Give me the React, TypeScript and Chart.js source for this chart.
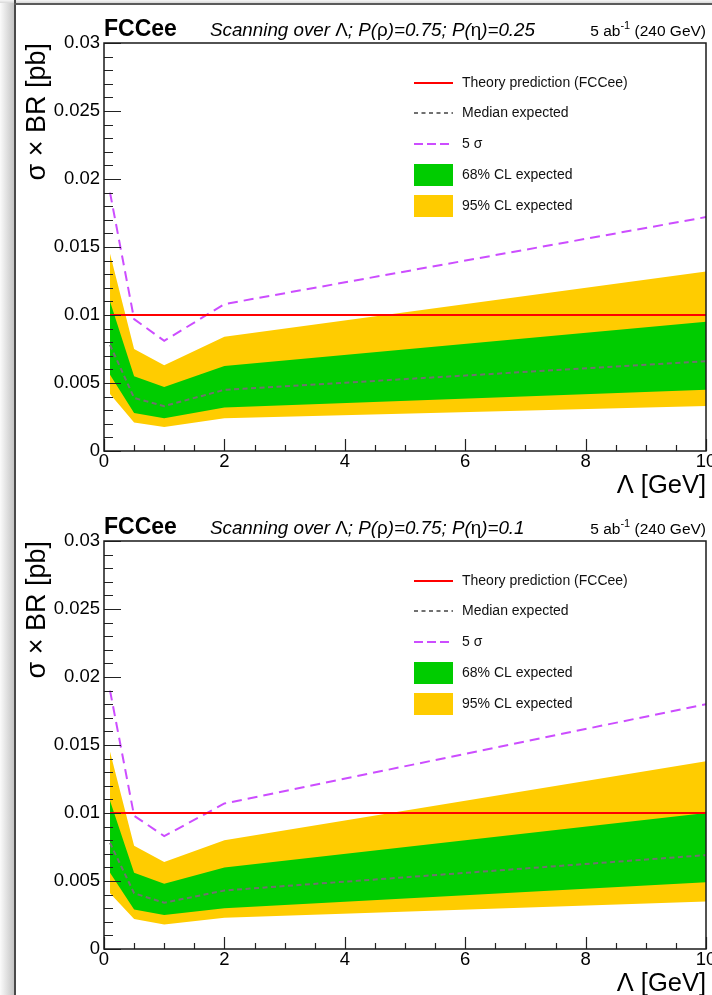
import React, { useEffect, useRef } from "react";
import { Chart, registerables } from "chart.js";

Chart.register(...registerables);

// ---------- data ----------
const LAMBDA = [0.1, 0.5, 1, 2, 10];
const THEORY = [0.01, 0.01, 0.01, 0.01, 0.01];

// Panel 1: P(eta) = 0.25
const P1_MEDIAN = [0.0078, 0.0039, 0.0033, 0.0045, 0.0066];
const P1_SIG1_HI = [0.011, 0.0055, 0.0047, 0.00625, 0.0095];
const P1_SIG1_LO = [0.0056, 0.0028, 0.0024, 0.0032, 0.0045];
const P1_SIG2_HI = [0.0145, 0.0075, 0.0063, 0.0084, 0.0132];
const P1_SIG2_LO = [0.0042, 0.0021, 0.00176, 0.0024, 0.0033];
const P1_FIVESIGMA = [0.019, 0.0097, 0.0081, 0.0108, 0.0172];

// Panel 2: P(eta) = 0.1
const P2_MEDIAN = [0.0078, 0.0041, 0.0034, 0.0043, 0.0069];
const P2_SIG1_HI = [0.0109, 0.0056, 0.0048, 0.006, 0.01];
const P2_SIG1_LO = [0.0056, 0.0029, 0.0025, 0.003, 0.0049];
const P2_SIG2_HI = [0.0145, 0.0076, 0.0064, 0.008, 0.0138];
const P2_SIG2_LO = [0.0041, 0.0022, 0.0018, 0.0023, 0.0035];
const P2_FIVESIGMA = [0.019, 0.0098, 0.0083, 0.0107, 0.018];

const X_TICK_VALUES = [0, 2, 4, 6, 8, 10];
const X_TICK_LABELS = ["0", "2", "4", "6", "8", "10"];
const Y_TICK_VALUES = [0, 0.005, 0.01, 0.015, 0.02, 0.025, 0.03];
const Y_TICK_LABELS = ["0", "0.005", "0.01", "0.015", "0.02", "0.025", "0.03"];

const LEGEND_LABELS = [
  "Theory prediction (FCCee)",
  "Median expected",
  "5 \u03c3",
  "68% CL expected",
  "95% CL expected",
];

const PANEL_ETA = ["0.25", "0.1"];

const FONT = "'Liberation Sans', Arial, Helvetica, sans-serif";

const C_RED = "#ff0000";
const C_MEDIAN = "#707070";
const C_PURPLE = "#cc4dff";
const C_GREEN = "#00cc00";
const C_YELLOW = "#ffcc00";

type PanelData = {
  eta: string;
  median: number[];
  s1hi: number[];
  s1lo: number[];
  s2hi: number[];
  s2lo: number[];
  five: number[];
};

const PANELS: PanelData[] = [
  { eta: PANEL_ETA[0], median: P1_MEDIAN, s1hi: P1_SIG1_HI, s1lo: P1_SIG1_LO, s2hi: P1_SIG2_HI, s2lo: P1_SIG2_LO, five: P1_FIVESIGMA },
  { eta: PANEL_ETA[1], median: P2_MEDIAN, s1hi: P2_SIG1_HI, s1lo: P2_SIG1_LO, s2hi: P2_SIG2_HI, s2lo: P2_SIG2_LO, five: P2_FIVESIGMA },
];

const xy = (ys: number[]) => LAMBDA.map((x, i) => ({ x, y: ys[i] }));

type Seg = { t: string; style?: string; sup?: boolean };

function drawSegs(ctx: CanvasRenderingContext2D, segs: Seg[], x: number, y: number, size: number, align: "left" | "right") {
  const fontOf = (s: Seg) => `${s.style || ""} ${s.sup ? Math.round(size * 0.68) : size}px ${FONT}`;
  let total = 0;
  for (const s of segs) {
    ctx.font = fontOf(s);
    total += ctx.measureText(s.t).width;
  }
  let cx = align === "left" ? x : x - total;
  ctx.textAlign = "left";
  ctx.textBaseline = "alphabetic";
  for (const s of segs) {
    ctx.font = fontOf(s);
    ctx.fillText(s.t, cx, s.sup ? y - size * 0.45 : y);
    cx += ctx.measureText(s.t).width;
  }
}

const rootPlugin = {
  id: "rootStyle",
  afterDatasetsDraw(chart: any) {
    const ctx: CanvasRenderingContext2D = chart.ctx;
    const { left, right, top, bottom } = chart.chartArea;
    const xs = chart.scales.x;
    const ys = chart.scales.y;
    ctx.save();
    ctx.strokeStyle = "#222";
    ctx.lineWidth = 1.2;
    ctx.beginPath();
    for (let k = 0; k <= 30; k++) {
      const y = Math.round(ys.getPixelForValue(k * 0.001)) + 0.5;
      const len = k % 5 === 0 ? 17 : 9;
      ctx.moveTo(left, y);
      ctx.lineTo(left + len, y);
    }
    for (let k = 0; k <= 20; k++) {
      const x = Math.round(xs.getPixelForValue(k * 0.5)) + 0.5;
      const len = k % 4 === 0 ? 12 : 6;
      ctx.moveTo(x, bottom);
      ctx.lineTo(x, bottom - len);
    }
    ctx.stroke();
    ctx.lineWidth = 1.5;
    ctx.strokeStyle = "#1a1a1a";
    ctx.strokeRect(left, top, right - left, bottom - top);
    ctx.restore();
  },
  afterDraw(chart: any, _args: any, opts: any) {
    const ctx: CanvasRenderingContext2D = chart.ctx;
    const { left, right, top } = chart.chartArea;
    const ds = chart.data.datasets;
    ctx.save();
    ctx.fillStyle = "#000";
    // header
    drawSegs(ctx, [{ t: "FCCee", style: "bold" }], left, 36, 23, "left");
    drawSegs(
      ctx,
      [
        { t: "Scanning over ", style: "italic" },
        { t: "\u039b" },
        { t: "; P(", style: "italic" },
        { t: "\u03c1" },
        { t: ")=0.75; P(", style: "italic" },
        { t: "\u03b7" },
        { t: ")=" + opts.eta, style: "italic" },
      ],
      210,
      36,
      18.8,
      "left"
    );
    drawSegs(ctx, [{ t: "5 ab" }, { t: "-1", sup: true }, { t: " (240 GeV)" }], right, 36, 15.5, "right");

    // legend
    const lx0 = 414;
    const lx1 = 453;
    const tx = 462;
    const rows = [40, 70, 101, 132, 163];
    const items = [0, 1, 2, 3, 5];
    items.forEach((di, r) => {
      const d = ds[di];
      const cy = top + rows[r];
      if (r < 3) {
        ctx.save();
        ctx.strokeStyle = d.borderColor;
        ctx.lineWidth = d.borderWidth;
        ctx.setLineDash(r === 1 ? [4, 3.5] : r === 2 ? [9, 4] : []);
        ctx.beginPath();
        ctx.moveTo(lx0, cy);
        ctx.lineTo(lx1, cy);
        ctx.stroke();
        ctx.restore();
      } else {
        ctx.fillStyle = d.backgroundColor;
        ctx.fillRect(lx0, cy - 11, lx1 - lx0, 22);
      }
      ctx.fillStyle = "#111";
      ctx.font = `14px ${FONT}`;
      ctx.textAlign = "left";
      ctx.textBaseline = "middle";
      ctx.fillText(LEGEND_LABELS[r], tx, cy);
    });
    ctx.restore();
  },
};

function makeConfig(p: PanelData): any {
  const line = { pointRadius: 0, pointHoverRadius: 0, tension: 0 };
  return {
    type: "line",
    data: {
      datasets: [
        { ...line, label: LEGEND_LABELS[0], data: xy(THEORY), borderColor: C_RED, borderWidth: 2, fill: false, order: 0 },
        { ...line, label: LEGEND_LABELS[1], data: xy(p.median), borderColor: C_MEDIAN, borderWidth: 2, borderDash: [5, 3.5], fill: false, order: 1 },
        { ...line, label: LEGEND_LABELS[2], data: xy(p.five), borderColor: C_PURPLE, borderWidth: 2, borderDash: [10, 6], fill: false, order: 1 },
        { ...line, label: LEGEND_LABELS[3], data: xy(p.s1hi), borderColor: "transparent", borderWidth: 0, backgroundColor: C_GREEN, fill: "+1", order: 3 },
        { ...line, label: "68lo", data: xy(p.s1lo), borderColor: "transparent", borderWidth: 0, backgroundColor: C_GREEN, fill: false, order: 4 },
        { ...line, label: LEGEND_LABELS[4], data: xy(p.s2hi), borderColor: "transparent", borderWidth: 0, backgroundColor: C_YELLOW, fill: "+1", order: 5 },
        { ...line, label: "95lo", data: xy(p.s2lo), borderColor: "transparent", borderWidth: 0, backgroundColor: C_YELLOW, fill: false, order: 6 },
      ],
    },
    options: {
      responsive: false,
      animation: false,
      devicePixelRatio: 1,
      events: [],
      layout: { padding: { left: 0, right: 6, top: 43, bottom: 0 } },
      plugins: {
        legend: { display: false },
        tooltip: { enabled: false },
        rootStyle: { eta: p.eta },
      },
      scales: {
        x: {
          type: "linear",
          min: 0,
          max: 10,
          grid: { display: false, drawTicks: false, tickLength: 0 },
          border: { display: false },
          afterBuildTicks: (s: any) => {
            s.ticks = X_TICK_VALUES.map((v) => ({ value: v }));
          },
          ticks: {
            padding: 0,
            maxRotation: 0,
            autoSkip: false,
            color: "#000",
            font: { family: FONT, size: 18.5 },
            callback: (_v: any, i: number) => X_TICK_LABELS[i],
          },
          title: {
            display: true,
            text: "\u039b [GeV]",
            align: "end",
            color: "#000",
            font: { family: FONT, size: 25.5 },
            padding: { top: 0, bottom: -3 },
          },
          afterFit: (s: any) => {
            s.height = 47;
            s.paddingLeft = 0;
            s.paddingRight = 0;
          },
        },
        y: {
          type: "linear",
          min: 0,
          max: 0.03,
          grid: { display: false, drawTicks: false, tickLength: 0 },
          border: { display: false },
          afterBuildTicks: (s: any) => {
            s.ticks = Y_TICK_VALUES.map((v) => ({ value: v }));
          },
          ticks: {
            padding: 4,
            autoSkip: false,
            color: "#000",
            font: { family: FONT, size: 18.5 },
            callback: (_v: any, i: number) => Y_TICK_LABELS[i],
          },
          title: {
            display: true,
            text: "\u03c3 \u00d7 BR [pb]",
            align: "end",
            color: "#000",
            font: { family: FONT, size: 27 },
            padding: { top: 21, bottom: 0 },
          },
          afterFit: (s: any) => {
            s.width = 104;
            s.paddingTop = 0;
            s.paddingBottom = 0;
          },
        },
      },
    },
    plugins: [rootPlugin],
  };
}

function Panel({ p, top }: { p: PanelData; top: number }) {
  const ref = useRef<HTMLCanvasElement>(null);
  useEffect(() => {
    const chart = new Chart(ref.current as HTMLCanvasElement, makeConfig(p));
    return () => chart.destroy();
  }, [p]);
  return (
    <canvas
      ref={ref}
      width={712}
      height={498}
      style={{ position: "absolute", left: 0, top, width: 712, height: 498, display: "block" }}
    />
  );
}

export default function App() {
  return (
    <div style={{ position: "absolute", left: 0, top: 0, width: 712, height: 995, overflow: "hidden", background: "#fff" }}>
      <Panel p={PANELS[0]} top={0} />
      <Panel p={PANELS[1]} top={498} />
      <div style={{ position: "absolute", left: 0, top: 0, width: 14, height: 995, background: "linear-gradient(to right, #fbfbfb, #c4c4c4)" }} />
      <div style={{ position: "absolute", left: 0, top: 0, width: 712, height: 3, background: "linear-gradient(to bottom, #f6f6f6, #d8d8d8)" }} />
      <div style={{ position: "absolute", left: 14, top: 0, width: 2, height: 995, background: "#4a4a4a" }} />
      <div style={{ position: "absolute", left: 14, top: 3, width: 698, height: 1.5, background: "#5a5a5a" }} />
    </div>
  );
}
